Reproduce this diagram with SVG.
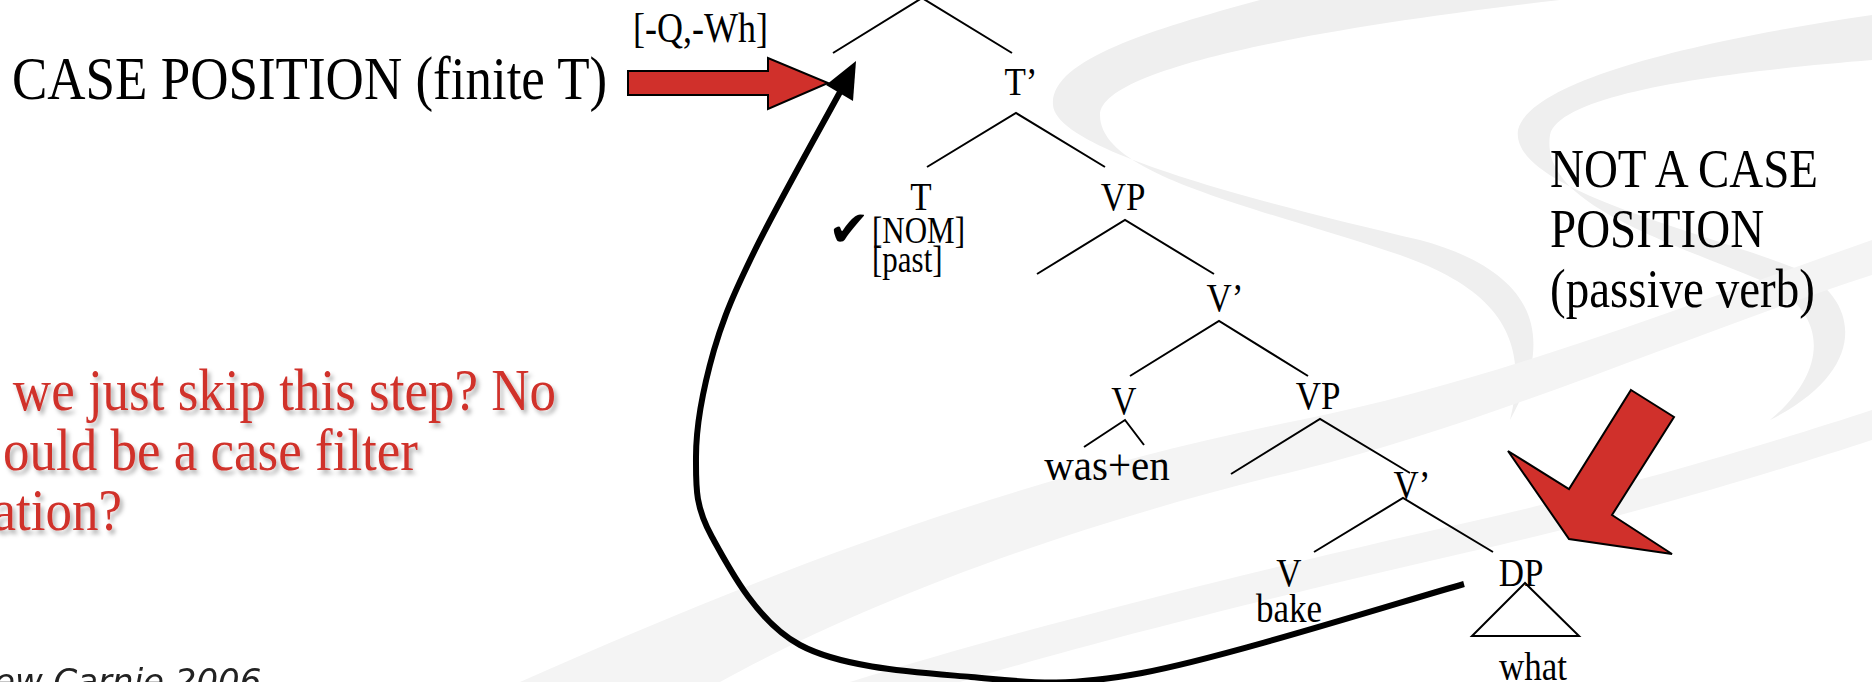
<svg xmlns="http://www.w3.org/2000/svg" width="1872" height="682" viewBox="0 0 1872 682">
<defs>
<style>
.bg{fill:#efefef;stroke:none}
.bg2{fill:#f4f4f4;stroke:none}
.edge{stroke:#000;stroke-width:2;fill:none}
.lbl{font-family:"Liberation Serif","Times New Roman",serif;font-size:35px;fill:#000;text-anchor:middle}
.feat{font-family:"Liberation Serif","Times New Roman",serif;font-size:31px;fill:#000}
.big{font-family:"Liberation Serif","Times New Roman",serif;font-size:47px;fill:#000}
.red{font-family:"Liberation Serif","Times New Roman",serif;font-size:53px;fill:#d0302b;text-anchor:end}
.redarrow{fill:#d0302b;stroke:#000;stroke-width:2;stroke-linejoin:miter}
</style>
<filter id="sh" x="-5%" y="-20%" width="110%" height="150%">
<feDropShadow dx="3" dy="4" stdDeviation="2" flood-color="#000" flood-opacity="0.3"/>
</filter>
</defs>
<rect width="1872" height="682" fill="#fff"/>
<g id="background">
<path class="bg" d="M 1260 0 C 1150 30, 1050 60, 1053 105 C 1056 150, 1250 200, 1420 240 C 1530 270, 1560 330, 1510 420 C 1530 340, 1500 290, 1400 255 C 1250 205, 1100 175, 1100 115 C 1100 70, 1300 30, 1560 0 Z"/>
<path class="bg" d="M 1872 15 C 1700 40, 1530 80, 1518 130 C 1510 190, 1700 230, 1800 270 C 1860 300, 1870 370, 1770 420 C 1830 370, 1830 310, 1760 280 C 1650 235, 1540 200, 1550 135 C 1560 90, 1750 70, 1872 60 Z"/>
<path class="bg2" d="M 520 682 C 750 580, 1000 480, 1300 420 C 1500 380, 1700 300, 1872 240 L 1872 275 C 1700 330, 1500 420, 1300 470 C 1050 530, 850 610, 720 682 Z"/>
<path class="bg2" d="M 850 682 C 1050 620, 1300 560, 1500 515 C 1650 480, 1780 440, 1872 410 L 1872 440 C 1780 470, 1650 510, 1500 545 C 1300 590, 1100 640, 960 682 Z"/>
</g>
<g id="tree-edges">
<polyline class="edge" points="833,53 922,-2 1012,53"/>
<polyline class="edge" points="927,167 1016,113 1105,167"/>
<polyline class="edge" points="1037,274 1125,220 1214,274"/>
<polyline class="edge" points="1130,376 1219,321 1308,376"/>
<polyline class="edge" points="1084,447 1125,420 1144,445"/>
<polyline class="edge" points="1231,474 1320,419 1410,473"/>
<polyline class="edge" points="1314,552 1403,498 1493,552"/>
<polygon class="edge" points="1525,583 1472,636 1579,636"/>
</g>
<g id="node-spec-feat"><text class="feat" transform="translate(633,42) scale(1,1.2)" style="font-size:36px">[-Q,-Wh]</text></g>
<g id="node-Tbar"><text class="lbl" transform="translate(1021,95) scale(1,1.12)">T’</text></g>
<g id="node-T">
<text class="lbl" transform="translate(921,210) scale(1,1.12)">T</text>
<text transform="translate(828,246)" style="font-family:'DejaVu Sans',sans-serif;font-size:50px;fill:#000">✔</text>
<text class="feat" transform="translate(872,243) scale(1,1.2)">[NOM]</text>
<text class="feat" transform="translate(872,272) scale(1,1.2)">[past]</text>
</g>
<g id="node-VP1"><text class="lbl" transform="translate(1123,210) scale(1,1.12)">VP</text></g>
<g id="node-Vbar1"><text class="lbl" transform="translate(1225,311) scale(1,1.12)">V’</text></g>
<g id="node-V1">
<text class="lbl" transform="translate(1124,414) scale(1,1.12)">V</text>
<text class="lbl" transform="translate(1107,480) scale(1,1.1)" style="font-size:41px">was+en</text>
</g>
<g id="node-VP2"><text class="lbl" transform="translate(1318,409) scale(1,1.12)">VP</text></g>
<g id="node-Vbar2"><text class="lbl" transform="translate(1412,498) scale(1,1.12)">V’</text></g>
<g id="node-V2">
<text class="lbl" transform="translate(1289,586) scale(1,1.12)">V</text>
<text class="lbl" transform="translate(1289,622) scale(1,1.12)">bake</text>
</g>
<g id="node-DP">
<text class="lbl" transform="translate(1521,586) scale(1,1.12)">DP</text>
<text class="lbl" transform="translate(1533,680) scale(1,1.12)">what</text>
</g>
<g id="label-case">
<text class="big" transform="translate(12,99) scale(1,1.14)" style="font-size:53px">CASE POSITION (finite T)</text>
<polygon class="redarrow" points="628,71 768,71 768,58 828,83 768,109 768,95 628,95"/>
</g>
<g id="label-notcase">
<text class="big" transform="translate(1550,187) scale(1,1.18)">NOT A CASE</text>
<text class="big" transform="translate(1550,247) scale(1,1.18)">POSITION</text>
<text class="big" transform="translate(1550,307) scale(1,1.18)">(passive verb)</text>
<polygon class="redarrow" points="1631,390 1674,417 1612,515 1672,554 1569,539 1508,451 1569,489"/>
</g>
<g id="question" filter="url(#sh)">
<text class="red" transform="translate(556,410) scale(1,1.1)">we just skip this step? No</text>
<text class="red" transform="translate(418,470) scale(1,1.1)">ould be a case filter</text>
<text class="red" transform="translate(122,530) scale(1,1.1)">ation?</text>
</g>
<g id="credit">
<text x="-6" y="693" style="font-family:'DejaVu Sans',sans-serif;font-size:34px;fill:#222;font-style:italic">ew Carnie 2006</text>
</g>
<g id="connectors">
<path d="M1464,584 C1410,599 1224,658 1142,673 C1060,688 1028,682 971,677 C914,672 843,668 800,645 C757,622 729,568 712,537 C695,506 696,488 696,457 C696,426 704,385 714,350 C724,316 734,293 755,250 C776,207 826,118 840,92" fill="none" stroke="#000" stroke-width="6"/>
<polygon points="856,61 826,85 853,101" fill="#000"/>
</g>
</svg>
